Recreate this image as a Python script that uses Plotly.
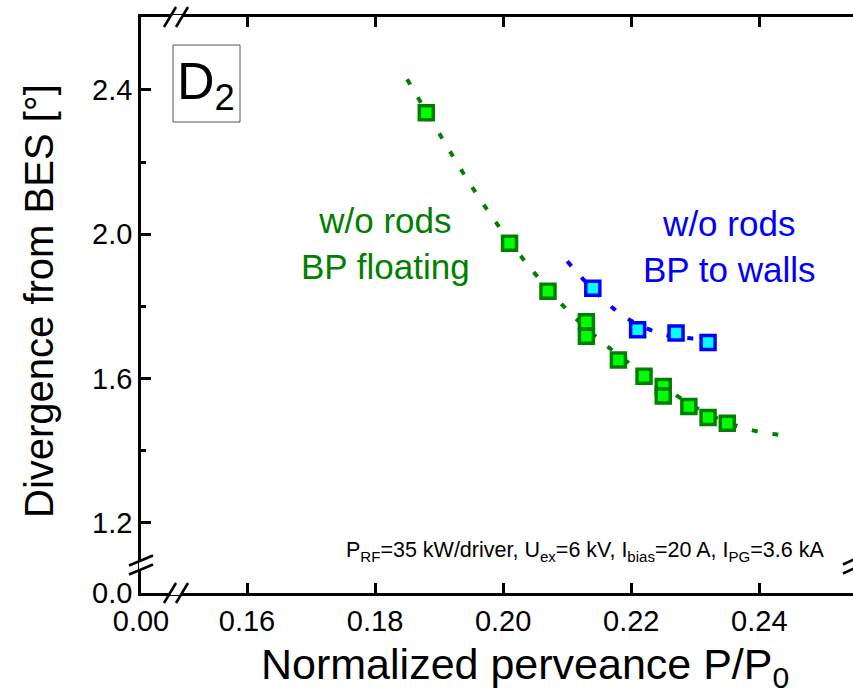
import plotly.graph_objects as go

# ---- data ----
green_x = [0.188, 0.201, 0.207, 0.213, 0.213, 0.218, 0.222, 0.225, 0.225, 0.229, 0.232, 0.235]
green_y = [2.337, 1.975, 1.842, 1.757, 1.717, 1.651, 1.606, 1.578, 1.551, 1.522, 1.492, 1.476]

blue_x = [0.214, 0.221, 0.227, 0.232]
blue_y = [1.850, 1.735, 1.726, 1.700]

green_fit_x = [0.185, 0.190, 0.195, 0.200, 0.205, 0.210, 0.215, 0.220, 0.225, 0.230, 0.235, 0.240, 0.245]
green_fit_y = [2.430, 2.280, 2.135, 2.005, 1.890, 1.790, 1.708, 1.638, 1.578, 1.520, 1.478, 1.452, 1.440]

blue_fit_x = [0.2100, 0.2125, 0.2150, 0.2175, 0.2200, 0.2225, 0.2250, 0.2275, 0.2300, 0.2325, 0.2350]
blue_fit_y = [1.925, 1.875, 1.830, 1.790, 1.760, 1.738, 1.722, 1.714, 1.711, 1.712, 1.717]

x_ticks = [0.16, 0.18, 0.20, 0.22, 0.24]
x_labels = ["0.16", "0.18", "0.20", "0.22", "0.24"]
y_ticks = [1.2, 1.6, 2.0, 2.4]
y_labels = ["1.2", "1.6", "2.0", "2.4"]
y_minor = [1.4, 1.8, 2.2]

# broken-axis starts (shown as 0.00 / 0.0)
X0, X1 = 0.143447, 0.254632
Y0, Y1 = 1.005, 2.6024

W, H = 853, 696
ML, MR, MT, MB = 141, 0, 17, 103
PW, PH = W - ML - MR, H - MT - MB


def px(x):
    return (x - ML) / PW


def py(y):
    return (H - MB - y) / PH


GREEN_D = "#008000"
GREEN_L = "#00ff00"
BLUE_D = "#0000ff"
BLUE_L = "#00ffff"
FONT = "Liberation Sans, Arial, sans-serif"

fig = go.Figure()
fig.add_trace(go.Scatter(x=green_fit_x, y=green_fit_y, mode="lines", line=dict(color=GREEN_D, width=4, dash="6px,15px", shape="spline"), showlegend=False, hoverinfo="skip"))
fig.add_trace(go.Scatter(x=blue_fit_x, y=blue_fit_y, mode="lines", line=dict(color=BLUE_D, width=4, dash="6px,15px", shape="spline"), showlegend=False, hoverinfo="skip"))
fig.add_trace(go.Scatter(x=green_x, y=green_y, mode="markers", marker=dict(symbol="square", size=14, color=GREEN_L, line=dict(color=GREEN_D, width=3.5)), showlegend=False))
fig.add_trace(go.Scatter(x=blue_x, y=blue_y, mode="markers", marker=dict(symbol="square", size=14, color=BLUE_L, line=dict(color=BLUE_D, width=3.5)), showlegend=False))

shapes = []
# D2 box
shapes.append(dict(type="rect", xref="paper", yref="paper", x0=px(173), x1=px(240), y0=py(122), y1=py(45), line=dict(color="#555555", width=1)))

# axis breaks: white gaps + double slashes
def brk_h(cx, cy):
    # break on a horizontal axis line at pixel (cx, cy)
    shapes.append(dict(type="rect", xref="paper", yref="paper", x0=px(cx - 6), x1=px(cx + 6), y0=py(cy + 2), y1=py(cy - 2), line=dict(width=0), fillcolor="white", layer="above"))
    for dx in (-6, 6):
        shapes.append(dict(type="line", xref="paper", yref="paper", x0=px(cx + dx - 6), y0=py(cy + 10), x1=px(cx + dx + 6), y1=py(cy - 10), line=dict(color="black", width=2.5), layer="above"))


def brk_v(cx, cy):
    shapes.append(dict(type="rect", xref="paper", yref="paper", x0=px(cx - 2), x1=px(cx + 2), y0=py(cy + 5), y1=py(cy - 5), line=dict(width=0), fillcolor="white", layer="above"))
    for dy in (-4.5, 4.5):
        shapes.append(dict(type="line", xref="paper", yref="paper", x0=px(cx - 12), y0=py(cy + dy + 5), x1=px(cx + 12), y1=py(cy + dy - 5), line=dict(color="black", width=2.5), layer="above"))


brk_h(176, 593)
brk_h(176, 17)
brk_v(141, 565)
# partial break mark of the (off-screen) right axis
for dy in (-4.5, 4.5):
    shapes.append(dict(type="line", xref="paper", yref="paper", x0=px(843), y0=py(565 + dy + 4), x1=px(856), y1=py(565 + dy - 2), line=dict(color="black", width=2.5), layer="above"))

annotations = [
    dict(xref="paper", yref="paper", x=px(206), y=py(85), text="D<sub>2</sub>", showarrow=False, font=dict(family=FONT, size=52, color="black"), xanchor="center", yanchor="middle"),
    dict(xref="paper", yref="paper", x=px(385), y=py(243), text="w/o rods<br>BP floating", showarrow=False, font=dict(family=FONT, size=35, color=GREEN_D), xanchor="center", yanchor="middle", align="center"),
    dict(xref="paper", yref="paper", x=px(729), y=py(246), text="w/o rods<br>BP to walls", showarrow=False, font=dict(family=FONT, size=35, color=BLUE_D), xanchor="center", yanchor="middle", align="center"),
    dict(xref="paper", yref="paper", x=px(826), y=py(551), text="P<sub>RF</sub>=35 kW/driver, U<sub>ex</sub>=6 kV, I<sub>bias</sub>=20 A, I<sub>PG</sub>=3.6 kA", showarrow=False, font=dict(family=FONT, size=21.5, color="black"), xanchor="right", yanchor="middle"),
    # axis titles (the reference plot is wider than the window, so the x title sits right of the visible centre)
    dict(xref="paper", yref="paper", x=px(525), y=py(667), text="Normalized perveance P/P<sub>0</sub>", showarrow=False, font=dict(family=FONT, size=43, color="black"), xanchor="center", yanchor="middle"),
    dict(xref="paper", yref="paper", x=px(39), y=py(301), text="Divergence from BES [°]", textangle=-90, showarrow=False, font=dict(family=FONT, size=40, color="black"), xanchor="center", yanchor="middle"),
]

fig.update_layout(
    width=W, height=H,
    margin=dict(l=ML, r=MR, t=MT, b=MB),
    paper_bgcolor="white", plot_bgcolor="white",
    font=dict(family=FONT, color="black"),
    shapes=shapes, annotations=annotations,
    xaxis=dict(
        range=[X0, X1], showgrid=False, zeroline=False,
        showline=True, linecolor="black", linewidth=2.5, mirror="ticks",
        ticks="inside", ticklen=10, tickwidth=2.5, tickcolor="black",
        tickmode="array", tickvals=[X0 + 1e-7] + x_ticks, ticktext=["0.00"] + x_labels,
        tickfont=dict(family=FONT, size=29, color="black"),
    ),
    yaxis=dict(
        range=[Y0, Y1], showgrid=False, zeroline=False,
        showline=True, linecolor="black", linewidth=2.5, mirror=False,
        ticks="inside", ticklen=10, tickwidth=2.5, tickcolor="black",
        tickmode="array", tickvals=[Y0 + 1e-6] + y_ticks, ticktext=["0.0"] + y_labels,
        tickfont=dict(family=FONT, size=29, color="black"),
        minor=dict(tickmode="array", tickvals=y_minor, ticks="inside", ticklen=5, tickwidth=2.5, tickcolor="black", showgrid=False),
    ),
)

fig.write_html("out.html")
